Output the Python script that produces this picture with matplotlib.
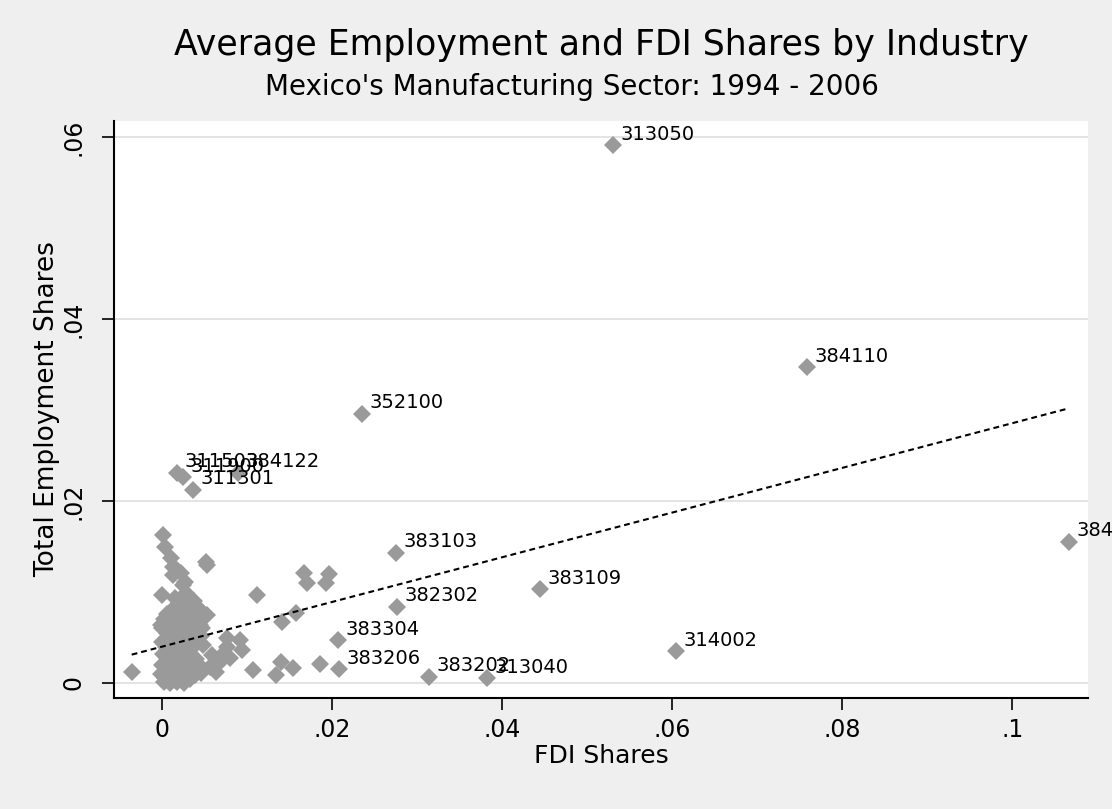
import matplotlib
matplotlib.use('Agg')
import matplotlib.pyplot as plt
import numpy as np

# ---------------- data ----------------
labeled_codes = ['313050', '384110', '352100', '383103', '382302', '383109',
                 '314002', '384121', '383304', '383206', '383202', '313040',
                 '311503', '311900', '311301', '384122']
labeled_fdi = [0.0530, 0.0758, 0.0235, 0.0275, 0.0276, 0.0444,
               0.0604, 0.1067, 0.0207, 0.0208, 0.0314, 0.0382,
               0.0017, 0.0024, 0.0036, 0.0089]
labeled_emp = [0.0591, 0.0347, 0.0296, 0.0143, 0.0084, 0.0103,
               0.0035, 0.0155, 0.0047, 0.0015, 0.0007, 0.0005,
               0.0231, 0.0226, 0.0212, 0.0231]

other_fdi = [0.0001, 0.0003, 0.0010, 0.0013, 0.0017, 0.0022, 0.0013, 0.0027, 0.0024, 0.0051, 0.0053,
             0.0000, 0.0015, 0.0028, 0.0111, 0.0041, 0.0033, 0.0011, 0.0053, -0.0002, 0.0017, 0.0047,
             0.0076, 0.0092, 0.0048, 0.0076, 0.0094, 0.0059, 0.0080, 0.0068, 0.0047, 0.0056, 0.0033,
             0.0107, 0.0134, 0.0140, 0.0154, 0.0141, 0.0157, 0.0167, 0.0170, 0.0196, 0.0193, 0.0185, -0.0036,
             0.0000, 0.0005, 0.0010, 0.0015, 0.0020, 0.0025, 0.0030, 0.0035,
             0.0000, 0.0004, 0.0008, 0.0012, 0.0016, 0.0021, 0.0026, 0.0031, 0.0038,
             0.0001, 0.0005, 0.0009, 0.0013, 0.0018, 0.0022, 0.0027, 0.0033, 0.0040,
             0.0000, 0.0004, 0.0008, 0.0012, 0.0016, 0.0020, 0.0024, 0.0029, 0.0035, 0.0042,
             -0.0002, 0.0003, 0.0007, 0.0011, 0.0015, 0.0019, 0.0023, 0.0028, 0.0033, 0.0039, 0.0045,
             0.0002, 0.0009, 0.0017, 0.0026,
             0.0002, 0.0008, 0.0014, 0.0019, 0.0024, 0.0029, 0.0034, 0.0041, 0.0046,
             0.0025, 0.0035, 0.0040, 0.0030, 0.0044, 0.0020, 0.0006, 0.0037, 0.0045, 0.0028,
             0.0072, 0.0063]
other_emp = [0.0163, 0.0149, 0.0137, 0.0127, 0.0124, 0.0121, 0.0119, 0.0111, 0.0108, 0.0133, 0.0130,
             0.0097, 0.0093, 0.0099, 0.0097, 0.0084, 0.0080, 0.0080, 0.0075, 0.0064, 0.0069, 0.0060,
             0.0049, 0.0047, 0.0042, 0.0040, 0.0036, 0.0031, 0.0027, 0.0023, 0.0016, 0.0018, 0.0007,
             0.0014, 0.0009, 0.0023, 0.0016, 0.0067, 0.0077, 0.0121, 0.0110, 0.0120, 0.0110, 0.0021, 0.0012,
             0.0060, 0.0055, 0.0058, 0.0052, 0.0056, 0.0050, 0.0054, 0.0048,
             0.0045, 0.0040, 0.0046, 0.0042, 0.0038, 0.0044, 0.0040, 0.0036, 0.0042,
             0.0032, 0.0028, 0.0034, 0.0030, 0.0026, 0.0032, 0.0028, 0.0030, 0.0026,
             0.0020, 0.0016, 0.0022, 0.0018, 0.0014, 0.0020, 0.0016, 0.0019, 0.0015, 0.0020,
             0.0010, 0.0006, 0.0011, 0.0007, 0.0003, 0.0009, 0.0005, 0.0008, 0.0004, 0.0009, 0.0011,
             0.0001, 0.0000, 0.0001, 0.0000,
             0.0070, 0.0066, 0.0072, 0.0064, 0.0068, 0.0062, 0.0066, 0.0058, 0.0052,
             0.0080, 0.0076, 0.0070, 0.0086, 0.0064, 0.0088, 0.0076, 0.0090, 0.0079, 0.0074,
             0.0032, 0.0012]

fit_intercept = 0.0040
fit_slope = 0.2455

x_ticks = [0, 0.02, 0.04, 0.06, 0.08, 0.1]
x_tick_labels = ['0', '.02', '.04', '.06', '.08', '.1']
y_ticks = [0, 0.02, 0.04, 0.06]
y_tick_labels = ['0', '.02', '.04', '.06']

title = 'Average Employment and FDI Shares by Industry'
subtitle = "Mexico's Manufacturing Sector: 1994 - 2006"
x_title = 'FDI Shares'
y_title = 'Total Employment Shares'

# ---------------- figure ----------------
W, H = 1112, 809
bg = '#efefef'
mcol = '#9a9a9a'

fig = plt.figure(figsize=(W / 100, H / 100), dpi=100, facecolor=bg)
ax = fig.add_axes([114 / W, 1 - 698 / H, (1088 - 114) / W, (698 - 121) / H])
ax.set_facecolor('white')

all_fdi = np.array(other_fdi + labeled_fdi)
all_emp = np.array(other_emp + labeled_emp)

ax.plot(all_fdi, all_emp, linestyle='none', marker='D', markersize=9.4,
        color=mcol, markeredgewidth=0, zorder=3)

xs = np.array([all_fdi.min(), all_fdi.max()])
ax.plot(xs, fit_intercept + fit_slope * xs, color='black', lw=1.5,
        linestyle=(0, (2.8, 1.9)), zorder=4)

for code, xv, yv in zip(labeled_codes, labeled_fdi, labeled_emp):
    ax.annotate(code, (xv, yv), xytext=(5.5, 8), textcoords='offset points',
                ha='left', va='center', fontsize=14, color='black',
                annotation_clip=False, zorder=5)

ax.set_xlim(-0.00568, 0.10891)
ax.set_ylim(-0.00165, 0.06176)

for s in ['top', 'right']:
    ax.spines[s].set_visible(False)
for s in ['left', 'bottom']:
    ax.spines[s].set_linewidth(1.5)
    ax.spines[s].set_color('black')

ax.set_xticks(x_ticks)
ax.set_xticklabels(x_tick_labels, fontsize=17)
ax.set_yticks(y_ticks)
ax.set_yticklabels(y_tick_labels, fontsize=17, rotation=90, va='center')
ax.tick_params(axis='both', length=8.6, width=1.2, color='black')
ax.tick_params(axis='x', pad=6)
ax.tick_params(axis='y', pad=12)

ax.yaxis.grid(True, color='#e3e3e3', lw=1.4, zorder=0)
ax.set_axisbelow(True)

ax.set_xlabel(x_title, fontsize=18, labelpad=1)
ax.set_ylabel(y_title, fontsize=19, labelpad=1)

fig.text(601 / W, 1 - 45 / H, title, ha='center', va='center', fontsize=25)
fig.text(572 / W, 1 - 87 / H, subtitle, ha='center', va='center', fontsize=20)

fig.savefig('out.png', dpi=100, facecolor=bg)
